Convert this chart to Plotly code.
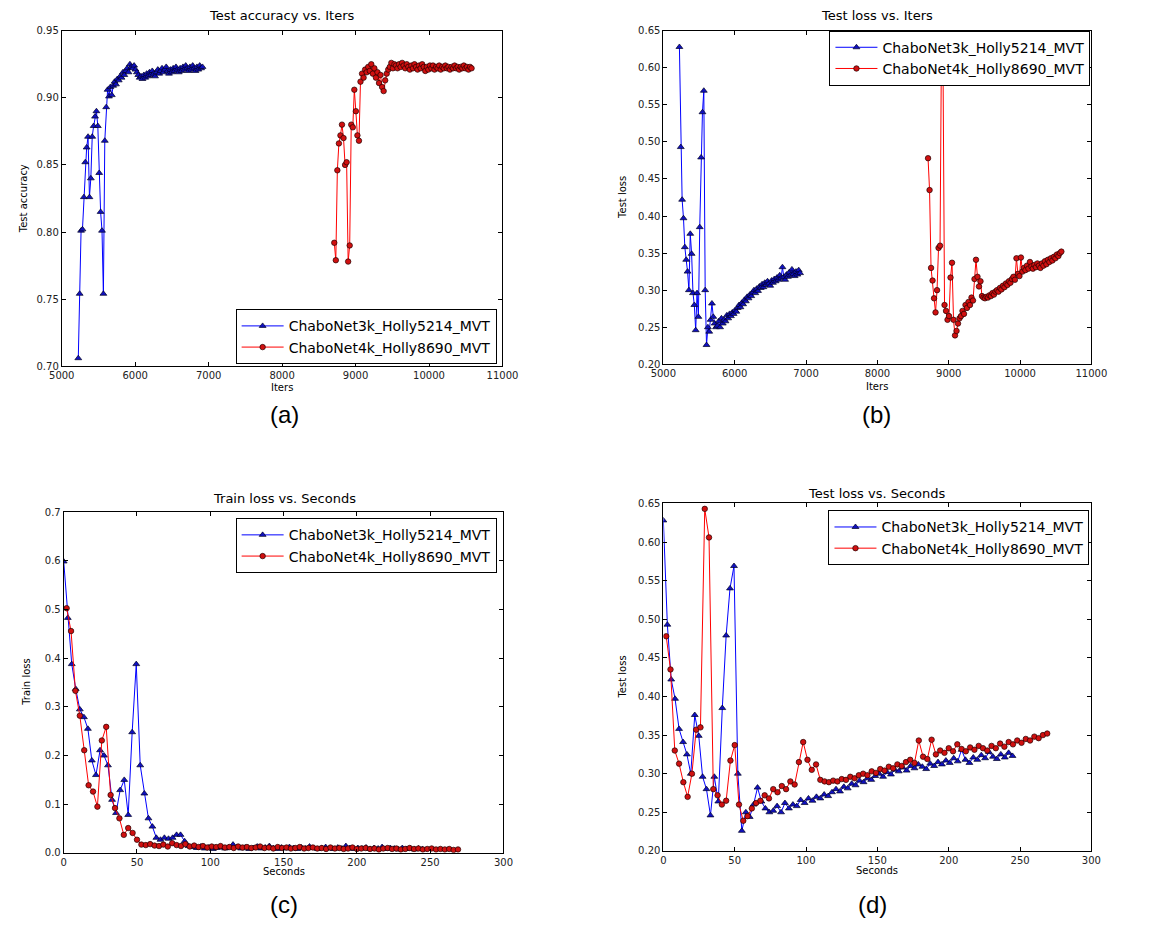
import plotly.graph_objects as go

W, H = 1163, 925

# ---------------- data ----------------
SERIES_BLUE = "ChaboNet3k_Holly5214_MVT"
SERIES_RED = "ChaboNet4k_Holly8690_MVT"

blue_iters = list(range(5225, 5225 + 19 * 90, 19))
red_iters = list(range(8710, 8710 + 21 * 90, 21))

blue_sec = [0.0, 2.8, 5.5, 8.2, 11.0, 13.8, 16.5, 19.2, 22.0, 24.8, 27.5, 30.2, 33.0, 35.7, 38.5,
            41.3, 44.0, 46.7, 49.5, 52.2, 55.0, 57.8, 60.5, 63.2, 66.0, 68.7, 71.5, 74.3, 77.0, 79.7,
            82.5, 85.2, 88.0, 90.8, 93.5, 96.2, 99.0, 101.7, 104.5, 107.3, 110.0, 112.7, 115.5, 118.2,
            121.0, 123.8, 126.5, 129.2, 132.0, 134.7, 137.5, 140.3, 143.0, 145.7, 148.5, 151.2, 154.0,
            156.8, 159.5, 162.2, 165.0, 167.7, 170.5, 173.3, 176.0, 178.7, 181.5, 184.2, 187.0, 189.8,
            192.5, 195.2, 198.0, 200.7, 203.5, 206.3, 209.0, 211.7, 214.5, 217.2, 220.0, 222.8, 225.5,
            228.2, 231.0, 233.7, 236.5, 239.3, 242.0, 244.7]

red_sec = [2, 5, 8, 11, 14, 17, 20, 23, 26, 29, 32, 35, 38, 41, 44, 47, 50, 53, 56, 59, 62, 65, 68,
           71, 74, 77, 80, 83, 86, 89, 92, 95, 98, 101, 104, 107, 110, 113, 116, 119, 122, 125, 128,
           131, 134, 137, 140, 143, 146, 149, 152, 155, 158, 161, 164, 167, 170, 173, 176, 179, 182,
           185, 188, 191, 194, 197, 200, 203, 206, 209, 212, 215, 218, 221, 224, 227, 230, 233, 236,
           239, 242, 245, 248, 251, 254, 257, 260, 263, 266, 269]

blue_test_acc = [0.706, 0.754, 0.801, 0.802, 0.826, 0.852, 0.863, 0.871, 0.826, 0.840,
                 0.871, 0.879, 0.886, 0.890, 0.879, 0.844, 0.815, 0.801, 0.754, 0.868,
                 0.893, 0.906, 0.901, 0.908, 0.902, 0.909, 0.912, 0.910, 0.914, 0.913,
                 0.916, 0.915, 0.919, 0.917, 0.920, 0.922, 0.919, 0.925, 0.923, 0.922,
                 0.924, 0.921, 0.919, 0.917, 0.915, 0.916, 0.914, 0.917, 0.915, 0.918,
                 0.916, 0.919, 0.917, 0.920, 0.918, 0.916, 0.919, 0.921, 0.918, 0.920,
                 0.922, 0.919, 0.921, 0.923, 0.920, 0.918, 0.921, 0.919, 0.922, 0.920,
                 0.923, 0.921, 0.919, 0.922, 0.920, 0.923, 0.921, 0.924, 0.922, 0.920,
                 0.923, 0.921, 0.924, 0.922, 0.920, 0.923, 0.921, 0.924, 0.922, 0.923]

red_test_acc = [0.792, 0.779, 0.846, 0.866, 0.872, 0.880, 0.870, 0.850, 0.852, 0.778,
                0.790, 0.880, 0.878, 0.906, 0.890, 0.872, 0.868, 0.912, 0.918, 0.915,
                0.921, 0.919, 0.923, 0.920, 0.925, 0.918, 0.922, 0.915, 0.919, 0.911,
                0.917, 0.908, 0.905, 0.913, 0.918, 0.921, 0.923, 0.926, 0.922, 0.925,
                0.924, 0.922, 0.925, 0.923, 0.926, 0.924, 0.922, 0.925, 0.923, 0.921,
                0.924, 0.922, 0.925, 0.923, 0.921, 0.924, 0.922, 0.925, 0.923, 0.920,
                0.923, 0.921, 0.924, 0.922, 0.924, 0.921, 0.923, 0.922, 0.924, 0.921,
                0.923, 0.922, 0.924, 0.922, 0.923, 0.921, 0.923, 0.922, 0.924, 0.922,
                0.923, 0.921, 0.923, 0.922, 0.924, 0.922, 0.923, 0.921, 0.923, 0.922]

blue_test_loss = [0.628, 0.493, 0.422, 0.397, 0.358, 0.341, 0.325, 0.300, 0.376, 0.349,
                  0.296, 0.280, 0.246, 0.296, 0.264, 0.385, 0.479, 0.540, 0.569, 0.300,
                  0.226, 0.250, 0.244, 0.260, 0.282, 0.264, 0.255, 0.250, 0.252, 0.258,
                  0.250, 0.262, 0.255, 0.260, 0.258, 0.266, 0.262, 0.268, 0.265, 0.270,
                  0.268, 0.273, 0.271, 0.276, 0.280, 0.277, 0.283, 0.281, 0.287, 0.285,
                  0.291, 0.289, 0.294, 0.292, 0.297, 0.300, 0.296, 0.302, 0.299, 0.305,
                  0.303, 0.308, 0.304, 0.310, 0.307, 0.312, 0.309, 0.306, 0.313, 0.310,
                  0.315, 0.312, 0.317, 0.314, 0.320, 0.316, 0.331, 0.318, 0.314, 0.321,
                  0.318, 0.324, 0.320, 0.328, 0.322, 0.319, 0.325, 0.321, 0.327, 0.323]

red_test_loss = [0.478, 0.435, 0.330, 0.313, 0.289, 0.270, 0.300, 0.357, 0.360, 0.643,
                 0.606, 0.280, 0.272, 0.260, 0.265, 0.317, 0.337, 0.260, 0.239, 0.245,
                 0.255, 0.262, 0.265, 0.272, 0.268, 0.280, 0.276, 0.284, 0.280, 0.290,
                 0.286, 0.315, 0.341, 0.318, 0.305, 0.312, 0.292, 0.290, 0.289, 0.291,
                 0.290, 0.293, 0.292, 0.296, 0.294, 0.298, 0.300, 0.298, 0.303, 0.301,
                 0.306, 0.304, 0.309, 0.307, 0.312, 0.310, 0.315, 0.318, 0.314, 0.343,
                 0.322, 0.319, 0.344, 0.325, 0.330, 0.327, 0.333, 0.329, 0.338, 0.332,
                 0.329, 0.334, 0.331, 0.336, 0.333, 0.330, 0.336, 0.333, 0.339, 0.335,
                 0.341, 0.338, 0.343, 0.340, 0.345, 0.343, 0.348, 0.346, 0.350, 0.352]

blue_train_loss = [0.599, 0.483, 0.388, 0.337, 0.295, 0.279, 0.255, 0.190, 0.160, 0.211,
                   0.200, 0.180, 0.109, 0.082, 0.129, 0.150, 0.078, 0.248, 0.388, 0.180,
                   0.122, 0.071, 0.054, 0.031, 0.027, 0.031, 0.029, 0.031, 0.037, 0.037,
                   0.024, 0.014, 0.012, 0.010, 0.013, 0.009, 0.011, 0.008, 0.010, 0.012,
                   0.009, 0.011, 0.017, 0.012, 0.009, 0.011, 0.008, 0.010, 0.013, 0.009,
                   0.011, 0.014, 0.010, 0.008, 0.011, 0.009, 0.012, 0.010, 0.008, 0.011,
                   0.009, 0.013, 0.010, 0.008, 0.010, 0.012, 0.009, 0.008, 0.011, 0.009,
                   0.014, 0.010, 0.008, 0.010, 0.009, 0.011, 0.008, 0.010, 0.009, 0.012,
                   0.008, 0.010, 0.009, 0.007, 0.010, 0.008, 0.009, 0.007, 0.009, 0.008]

red_train_loss = [0.503, 0.456, 0.333, 0.282, 0.211, 0.139, 0.126, 0.095, 0.231, 0.259,
                  0.119, 0.092, 0.071, 0.037, 0.051, 0.041, 0.027, 0.017, 0.016, 0.018,
                  0.015, 0.014, 0.017, 0.013, 0.020, 0.016, 0.014, 0.018, 0.013, 0.015,
                  0.012, 0.014, 0.011, 0.013, 0.012, 0.014, 0.011, 0.012, 0.010, 0.013,
                  0.011, 0.012, 0.010, 0.011, 0.013, 0.010, 0.011, 0.009, 0.012, 0.010,
                  0.011, 0.009, 0.010, 0.012, 0.009, 0.010, 0.011, 0.009, 0.010, 0.008,
                  0.011, 0.009, 0.010, 0.008, 0.009, 0.011, 0.008, 0.009, 0.010, 0.008,
                  0.009, 0.007, 0.009, 0.010, 0.008, 0.009, 0.007, 0.008, 0.010, 0.008,
                  0.009, 0.007, 0.008, 0.009, 0.007, 0.008, 0.007, 0.008, 0.006, 0.007]

# ---------------- layout helpers ----------------
FONT = "DejaVu Sans"


def px(x):
    return x / W


def py(y):
    return 1 - y / H


# plot boxes: left, top, right, bottom (pixels)
boxes = {
    1: (50, 25, 502, 365),
    2: (667, 25, 1106, 363),
    3: (52, 513, 503, 858),
    4: (667, 504, 1106, 856),
}

BLUE = "#0000ff"
RED = "#ff0000"


def blue_trace(x, y, ax, leg):
    return go.Scatter(x=x, y=y, mode="lines+markers", name=SERIES_BLUE,
                      xaxis="x" + ("" if ax == 1 else str(ax)),
                      yaxis="y" + ("" if ax == 1 else str(ax)),
                      legend=leg,
                      line=dict(color=BLUE, width=1),
                      marker=dict(symbol="triangle-up", size=6, color="#1010c0",
                                  line=dict(color="#000022", width=0.7)))


def red_trace(x, y, ax, leg):
    return go.Scatter(x=x, y=y, mode="lines+markers", name=SERIES_RED,
                      xaxis="x" + ("" if ax == 1 else str(ax)),
                      yaxis="y" + ("" if ax == 1 else str(ax)),
                      legend=leg,
                      line=dict(color=RED, width=1),
                      marker=dict(symbol="circle", size=5.5, color="#d01010",
                                  line=dict(color="#220000", width=0.7)))


fig = go.Figure()
fig.add_trace(blue_trace(blue_iters, blue_test_acc, 1, "legend"))
fig.add_trace(red_trace(red_iters, red_test_acc, 1, "legend"))
fig.add_trace(blue_trace(blue_iters, blue_test_loss, 2, "legend2"))
fig.add_trace(red_trace(red_iters, red_test_loss, 2, "legend2"))
fig.add_trace(blue_trace(blue_sec, blue_train_loss, 3, "legend3"))
fig.add_trace(red_trace(red_sec, red_train_loss, 3, "legend3"))
fig.add_trace(blue_trace(blue_sec, blue_test_loss, 4, "legend4"))
fig.add_trace(red_trace(red_sec, red_test_loss, 4, "legend4"))

axis_common = dict(showline=True, linecolor="black", linewidth=1, mirror="ticks",
                   ticks="inside", ticklen=4, tickcolor="black", showgrid=False,
                   zeroline=False, tickfont=dict(family=FONT, size=10, color="#222"))

xranges = {1: [5000, 11000], 2: [5000, 11000], 3: [0, 300], 4: [0, 300]}
xdticks = {1: 1000, 2: 1000, 3: 50, 4: 50}
yranges = {1: [0.70, 0.95], 2: [0.20, 0.65], 3: [0.0, 0.7], 4: [0.20, 0.65]}
ydticks = {1: 0.05, 2: 0.05, 3: 0.1, 4: 0.05}
yfmt = {1: ".2f", 2: ".2f", 3: ".1f", 4: ".2f"}

layout = {}
for k, (l, t, r, b) in boxes.items():
    xs = "xaxis" if k == 1 else f"xaxis{k}"
    ys = "yaxis" if k == 1 else f"yaxis{k}"
    anchor_y = "y" if k == 1 else f"y{k}"
    anchor_x = "x" if k == 1 else f"x{k}"
    layout[xs] = dict(domain=[px(l), px(r)], range=xranges[k], dtick=xdticks[k],
                      tick0=xranges[k][0], tickformat="d", anchor=anchor_y, **axis_common)
    layout[ys] = dict(domain=[py(b), py(t)], range=yranges[k], dtick=ydticks[k],
                      tick0=yranges[k][0], tickformat=yfmt[k], anchor=anchor_x, **axis_common)
fig.update_layout(**layout)

legend_common = dict(bgcolor="white", bordercolor="black", borderwidth=1,
                     font=dict(family=FONT, size=14, color="black"),
                     xref="paper", yref="paper", tracegroupgap=0, itemwidth=42)
fig.update_layout(
    legend=dict(x=px(496), y=py(363), xanchor="right", yanchor="bottom", **legend_common),
    legend2=dict(x=px(1105), y=py(25), xanchor="right", yanchor="top", **legend_common),
    legend3=dict(x=px(496), y=py(519), xanchor="right", yanchor="top", **legend_common),
    legend4=dict(x=px(1104), y=py(511), xanchor="right", yanchor="top", **legend_common),
)

annots = []


def text(x, y, s, size, angle=0, family=FONT):
    annots.append(dict(x=px(x), y=py(y), xref="paper", yref="paper", text=s, showarrow=False,
                       textangle=angle, xanchor="center", yanchor="middle",
                       font=dict(family=family, size=size, color="black")))


text(276, 10, "Test accuracy vs. Iters", 13)
text(886, 10, "Test loss vs. Iters", 13)
text(278, 499, "Train loss vs. Seconds", 13)
text(886, 494, "Test loss vs. Seconds", 13)

text(276, 387, "Iters", 10)
text(886, 385, "Iters", 10)
text(278, 877, "Seconds", 10)
text(886, 876, "Seconds", 10)

text(11, 195, "Test accuracy", 10, -90)
text(625, 194, "Test loss", 10, -90)
text(13, 685, "Train loss", 10, -90)
text(625, 680, "Test loss", 10, -90)

text(278, 414, "(a)", 24, family="Liberation Sans")
text(886, 414, "(b)", 24, family="Liberation Sans")
text(278, 910, "(c)", 24, family="Liberation Sans")
text(881, 910, "(d)", 24, family="Liberation Sans")

fig.update_layout(annotations=annots, width=W, height=H,
                  margin=dict(l=0, r=0, t=0, b=0),
                  paper_bgcolor="white", plot_bgcolor="white", showlegend=True)

fig.write_html("out.html", config={"displayModeBar": False},
               post_script="document.body.style.margin='0px';document.body.style.overflow='hidden';")
